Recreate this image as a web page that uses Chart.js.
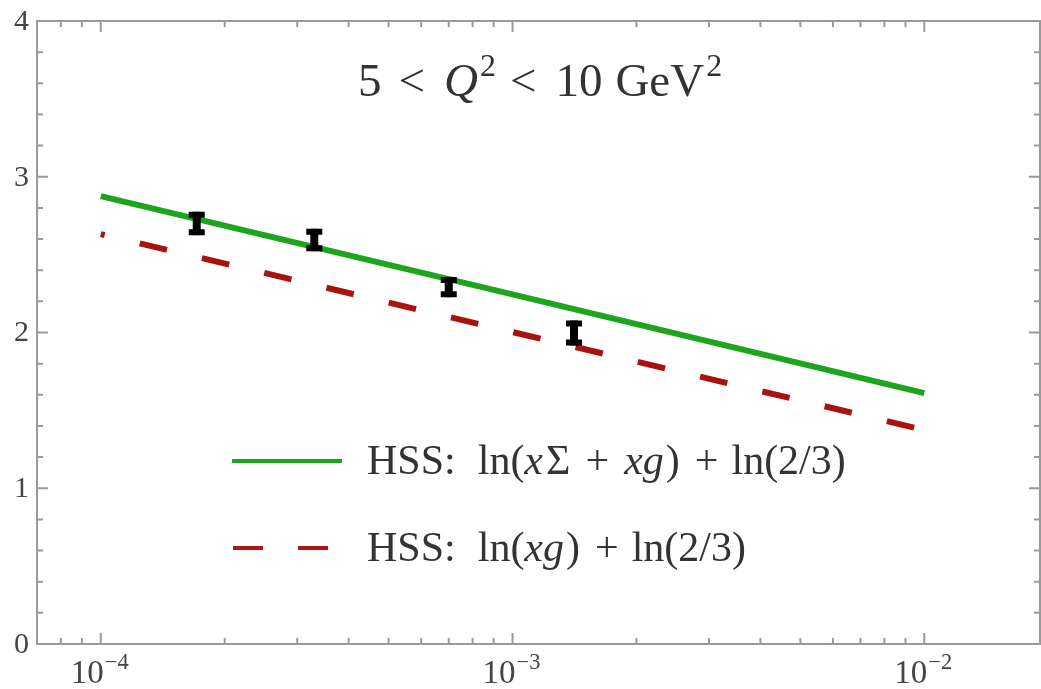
<!DOCTYPE html>
<html>
<head>
<meta charset="utf-8">
<script src="https://cdn.jsdelivr.net/npm/chart.js@4/dist/chart.umd.min.js"></script>
<style>
  html, body { margin: 0; padding: 0; background: #fff; }
  #wrap { width: 1041px; height: 689px; }
</style>
</head>
<body>
<div id="wrap"><canvas id="chart"></canvas></div>
<script>
// Theory curves, sampled at the decades
const curveX = [1e-4, 1e-3, 1e-2];
const sumCurve = [2.876, 2.245, 1.611];   // ln(xΣ + xg) + ln(2/3)
const gluonCurve = [2.632, 2.003, 1.374]; // ln(xg) + ln(2/3)

// Measured points with symmetric errors
const dataX = [1.71e-4, 3.30e-4, 7.0e-4, 1.41e-3];
const dataY = [2.70, 2.594, 2.292, 1.997];
const dataErr = [0.075, 0.072, 0.065, 0.08];

// Axis ticks
const xMajorTicks = [1e-4, 1e-3, 1e-2];
const xTickExponents = ["\u22124", "\u22123", "\u22122"];
const yMajorTicks = [0, 1, 2, 3, 4];

const SERIF = '"Liberation Serif", "DejaVu Serif", serif';
const AXIS_GREY = "#9a9a9a";
const TEXT_GREY = "#444";

// draw a run of text pieces, some italic / superscript, with extra gaps
function drawRich(ctx, parts, x, y, size, color) {
  ctx.save();
  ctx.fillStyle = color;
  ctx.textBaseline = "alphabetic";
  ctx.textAlign = "left";
  let cx = x;
  parts.forEach((p) => {
    const s = p.sup ? size * 0.68 : size;
    ctx.font = (p.i ? "italic " : "") + s + "px " + SERIF;
    const dy = p.sup ? -size * 0.42 : 0;
    ctx.fillText(p.t, cx, y + dy);
    cx += ctx.measureText(p.t).width + (p.gap || 0);
  });
  ctx.restore();
  return cx;
}

const framePlugin = {
  id: "frame",
  afterDraw(chart) {
    const { ctx, chartArea: a, scales } = chart;
    const xs = scales.x, ys = scales.y;
    ctx.save();
    ctx.strokeStyle = AXIS_GREY;
    ctx.lineWidth = 2;
    ctx.strokeRect(a.left, a.top, a.right - a.left, a.bottom - a.top);

    // x ticks, inward on bottom and top
    for (let e = -5; e <= -1; e++) {
      for (let m = 1; m <= 9; m++) {
        const v = m * Math.pow(10, e);
        if (v < xs.min || v > xs.max) continue;
        const px = xs.getPixelForValue(v);
        const len = m === 1 ? 11 : 6;
        ctx.beginPath();
        ctx.moveTo(px, a.bottom); ctx.lineTo(px, a.bottom - len);
        ctx.moveTo(px, a.top); ctx.lineTo(px, a.top + len);
        ctx.stroke();
      }
    }
    // y ticks, inward on left and right
    for (let k = 0; k <= 20; k++) {
      const v = k * 0.2;
      const py = ys.getPixelForValue(v);
      const len = k % 5 === 0 ? 11 : 6;
      ctx.beginPath();
      ctx.moveTo(a.left, py); ctx.lineTo(a.left + len, py);
      ctx.moveTo(a.right, py); ctx.lineTo(a.right - len, py);
      ctx.stroke();
    }

    // y tick labels
    ctx.fillStyle = TEXT_GREY;
    ctx.font = "30px " + SERIF;
    ctx.textAlign = "right";
    ctx.textBaseline = "middle";
    yMajorTicks.forEach((v) => {
      ctx.fillText(String(v), a.left - 8, ys.getPixelForValue(v) + 1);
    });

    // x tick labels as 10^n
    xMajorTicks.forEach((v, i) => {
      const px = xs.getPixelForValue(v);
      drawRich(ctx, [{ t: "10", gap: 1 }, { t: xTickExponents[i], sup: true }], px - 30, 683, 33, TEXT_GREY);
    });
    ctx.restore();
  },
};

const errorBarPlugin = {
  id: "errorBars",
  afterDatasetsDraw(chart) {
    const { ctx, scales } = chart;
    ctx.save();
    ctx.strokeStyle = "#000";
    ctx.lineCap = "butt";
    dataX.forEach((xv, i) => {
      const px = scales.x.getPixelForValue(xv);
      const top = scales.y.getPixelForValue(dataY[i] + dataErr[i]);
      const bot = scales.y.getPixelForValue(dataY[i] - dataErr[i]);
      ctx.lineWidth = 8;
      ctx.beginPath();
      ctx.moveTo(px, top); ctx.lineTo(px, bot);
      ctx.stroke();
      ctx.lineWidth = 6;
      ctx.beginPath();
      ctx.moveTo(px - 8, top + 3); ctx.lineTo(px + 8, top + 3);
      ctx.moveTo(px - 8, bot - 3); ctx.lineTo(px + 8, bot - 3);
      ctx.stroke();
    });
    ctx.restore();
  },
};

const annotationPlugin = {
  id: "textAndLegend",
  afterDraw(chart) {
    const { ctx } = chart;
    // title inside the frame
    drawRich(ctx, [
      { t: "5", gap: 17 },
      { t: "<", gap: 19 },
      { t: "Q", i: true, gap: 2 },
      { t: "2", sup: true, gap: 14 },
      { t: "<", gap: 19 },
      { t: "10", gap: 13 },
      { t: "GeV", gap: 2 },
      { t: "2", sup: true },
    ], 358, 96, 47, "#333");

    // legend
    ctx.save();
    ctx.lineWidth = 4;
    ctx.strokeStyle = "#1ea51e";
    ctx.beginPath();
    ctx.moveTo(232, 461); ctx.lineTo(342, 461);
    ctx.stroke();
    ctx.strokeStyle = "#b01414";
    ctx.setLineDash([30, 35]);
    ctx.beginPath();
    ctx.moveTo(233, 548); ctx.lineTo(342, 548);
    ctx.stroke();
    ctx.restore();

    drawRich(ctx, [
      { t: "HSS:", gap: 22 },
      { t: "ln(" },
      { t: "x", i: true, gap: 3 },
      { t: "\u03A3", gap: 15 },
      { t: "+", gap: 15 },
      { t: "xg", i: true, gap: 2 },
      { t: ")", gap: 15 },
      { t: "+", gap: 13 },
      { t: "ln(2/3)" },
    ], 367, 474, 42, "#333");
    drawRich(ctx, [
      { t: "HSS:", gap: 22 },
      { t: "ln(" },
      { t: "xg", i: true, gap: 2 },
      { t: ")", gap: 15 },
      { t: "+", gap: 13 },
      { t: "ln(2/3)" },
    ], 367, 561, 42, "#333");
  },
};

function toPoints(xs, ys) {
  return xs.map((x, i) => ({ x: x, y: ys[i] }));
}

const ctx = document.getElementById("chart").getContext("2d");
new Chart(ctx, {
  type: "scatter",
  data: {
    datasets: [
      {
        label: "HSS: ln(xΣ + xg) + ln(2/3)",
        data: toPoints(curveX, sumCurve),
        showLine: true,
        borderColor: "#1ea51e",
        borderWidth: 6,
        pointRadius: 0,
        fill: false,
      },
      {
        label: "HSS: ln(xg) + ln(2/3)",
        data: toPoints(curveX, gluonCurve),
        showLine: true,
        borderColor: "#aa1212",
        borderWidth: 6,
        borderDash: [28, 36],
        borderDashOffset: 24,
        pointRadius: 0,
        fill: false,
      },
      {
        label: "data",
        data: toPoints(dataX, dataY),
        pointRadius: 0,
        showLine: false,
      },
    ],
  },
  options: {
    responsive: true,
    maintainAspectRatio: false,
    animation: false,
    layout: {
      padding: { left: 37, top: 21, right: 1, bottom: 45 },
    },
    plugins: {
      legend: { display: false },
      tooltip: { enabled: false },
    },
    scales: {
      x: {
        type: "logarithmic",
        display: false,
        min: 7.03e-5,
        max: 0.0191,
      },
      y: {
        type: "linear",
        display: false,
        min: 0,
        max: 4,
      },
    },
  },
  plugins: [framePlugin, errorBarPlugin, annotationPlugin],
});
</script>
</body>
</html>
